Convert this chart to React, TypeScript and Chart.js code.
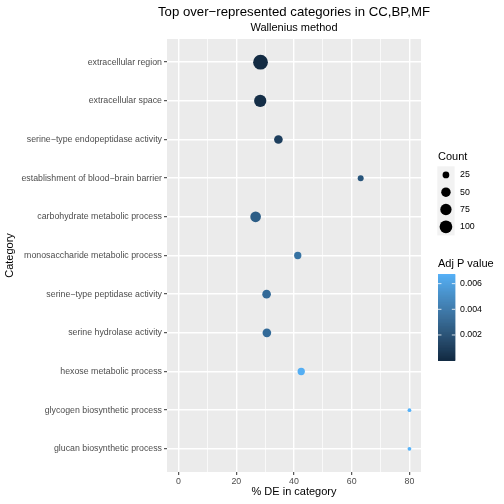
import React, { useEffect, useRef } from "react";
import { Chart, registerables } from "chart.js";

Chart.register(...registerables);

const TITLE = "Top over−represented categories in CC,BP,MF";
const SUBTITLE = "Wallenius method";
const X_TITLE = "% DE in category";
const Y_TITLE = "Category";
const COUNT_TITLE = "Count";
const P_TITLE = "Adj P value";

const categories = [
  "extracellular region",
  "extracellular space",
  "serine−type endopeptidase activity",
  "establishment of blood−brain barrier",
  "carbohydrate metabolic process",
  "monosaccharide metabolic process",
  "serine−type peptidase activity",
  "serine hydrolase activity",
  "hexose metabolic process",
  "glycogen biosynthetic process",
  "glucan biosynthetic process",
];
const pctDE = [28.4, 28.3, 34.6, 63.1, 26.7, 41.3, 30.5, 30.6, 42.5, 80, 80];
const counts = [144, 92, 41, 21, 66, 29, 41, 41, 29, 16, 16];
const adjP = [0.00002, 0.0002, 0.0011, 0.0023, 0.0027, 0.0038, 0.0034, 0.0034, 0.0066, 0.00675, 0.00675];

const xTicks = [0, 20, 40, 60, 80];
const xMinorTicks = [10, 30, 50, 70];
const countBreaks = [25, 50, 75, 100];
const pBreaks = [0.002, 0.004, 0.006];
const pBreakLabels = ["0.002", "0.004", "0.006"];

const LOW_COLOR = "#132B43";
const HIGH_COLOR = "#56B1F7";
const FONT = '"Liberation Sans", Arial, Helvetica, sans-serif';

// ---------- colour helpers (Lab interpolation like ggplot) ----------
function hexToRgb(h: string) {
  const v = parseInt(h.slice(1), 16);
  return [(v >> 16) & 255, (v >> 8) & 255, v & 255];
}
function toLab(hex: string) {
  const [r, g, b] = hexToRgb(hex).map((c) => {
    const s = c / 255;
    return s <= 0.04045 ? s / 12.92 : Math.pow((s + 0.055) / 1.055, 2.4);
  });
  const X = (0.4124564 * r + 0.3575761 * g + 0.1804375 * b) / 0.95047;
  const Y = 0.2126729 * r + 0.7151522 * g + 0.072175 * b;
  const Z = (0.0193339 * r + 0.119192 * g + 0.9503041 * b) / 1.08883;
  const f = (t: number) => (t > 216 / 24389 ? Math.cbrt(t) : ((24389 / 27) * t + 16) / 116);
  const fx = f(X), fy = f(Y), fz = f(Z);
  return [116 * fy - 16, 500 * (fx - fy), 200 * (fy - fz)];
}
function labToHex(L: number, a: number, bb: number) {
  const fy = (L + 16) / 116;
  const fx = fy + a / 500;
  const fz = fy - bb / 200;
  const inv = (f: number) => (f * f * f > 216 / 24389 ? f * f * f : (116 * f - 16) / (24389 / 27));
  const X = inv(fx) * 0.95047, Y = inv(fy), Z = inv(fz) * 1.08883;
  const lin = [
    3.2404542 * X - 1.5371385 * Y - 0.4985314 * Z,
    -0.969266 * X + 1.8760108 * Y + 0.041556 * Z,
    0.0556434 * X - 0.2040259 * Y + 1.0572252 * Z,
  ];
  const out = lin.map((c) => {
    const s = c <= 0.0031308 ? 12.92 * c : 1.055 * Math.pow(c, 1 / 2.4) - 0.055;
    return Math.max(0, Math.min(255, Math.round(s * 255)));
  });
  return "#" + out.map((c) => c.toString(16).padStart(2, "0")).join("");
}
const LAB_LO = toLab(LOW_COLOR);
const LAB_HI = toLab(HIGH_COLOR);
const P_MIN = Math.min(...adjP);
const P_MAX = Math.max(...adjP);
function colorFor(p: number) {
  const t = Math.max(0, Math.min(1, (p - P_MIN) / (P_MAX - P_MIN)));
  return labToHex(
    LAB_LO[0] + (LAB_HI[0] - LAB_LO[0]) * t,
    LAB_LO[1] + (LAB_HI[1] - LAB_LO[1]) * t,
    LAB_LO[2] + (LAB_HI[2] - LAB_LO[2]) * t
  );
}

// ---------- size helper (area scale like ggplot) ----------
const C_MIN = Math.min(...counts);
const C_MAX = Math.max(...counts);
const D_MIN = 3.8;
const D_MAX = 14.8;
function diameterFor(c: number) {
  const t = Math.max(0, (c - C_MIN) / (C_MAX - C_MIN));
  return D_MIN + (D_MAX - D_MIN) * Math.sqrt(t);
}

// ---------- x range (expand 5% incl. 0) ----------
const X_LO_DATA = Math.min(0, ...pctDE);
const X_HI_DATA = Math.max(...pctDE);
const X_PAD = (X_HI_DATA - X_LO_DATA) * 0.05;

const overlayPlugin = {
  id: "ggOverlay",
  beforeDraw(chart: any) {
    const { ctx, chartArea } = chart;
    ctx.save();
    ctx.fillStyle = "#EBEBEB";
    ctx.fillRect(chartArea.left, chartArea.top, chartArea.right - chartArea.left, chartArea.bottom - chartArea.top);
    ctx.restore();
  },
  afterDraw(chart: any) {
    const { ctx, chartArea } = chart;
    const cx = (chartArea.left + chartArea.right) / 2;
    const cy = (chartArea.top + chartArea.bottom) / 2;
    ctx.save();
    ctx.fillStyle = "#000";
    ctx.textAlign = "center";
    ctx.textBaseline = "middle";
    ctx.font = `13.2px ${FONT}`;
    ctx.fillText(TITLE, cx, 12);
    ctx.font = `11px ${FONT}`;
    ctx.fillText(SUBTITLE, cx, 27.5);
    ctx.fillText(X_TITLE, cx, 492);
    ctx.save();
    ctx.translate(10, cy);
    ctx.rotate(-Math.PI / 2);
    ctx.fillText(Y_TITLE, 0, 0);
    ctx.restore();

    // Count legend
    const lx = 438;
    ctx.textAlign = "left";
    ctx.font = `11px ${FONT}`;
    ctx.fillText(COUNT_TITLE, lx, 157);
    const keyH = 17.28;
    const keyTop = 166.3;
    ctx.fillStyle = "#F2F2F2";
    ctx.fillRect(lx - 0.7, keyTop, keyH, keyH * countBreaks.length);
    countBreaks.forEach((c, i) => {
      const ky = keyTop + keyH * (i + 0.5);
      const d = diameterFor(c);
      ctx.fillStyle = "#000";
      ctx.beginPath();
      ctx.arc(lx - 0.7 + keyH / 2, ky, d / 2, 0, Math.PI * 2);
      ctx.fill();
      ctx.font = `8.8px ${FONT}`;
      ctx.fillText(String(c), 460, ky);
    });

    // Adj P colourbar
    ctx.font = `11px ${FONT}`;
    ctx.fillStyle = "#000";
    ctx.fillText(P_TITLE, lx, 264);
    const barTop = 274;
    const barH = keyH * 5;
    const barW = keyH;
    const nb = Math.round(barH);
    for (let i = 0; i < nb; i++) {
      const t = 1 - (i + 0.5) / nb;
      ctx.fillStyle = colorFor(P_MIN + t * (P_MAX - P_MIN));
      ctx.fillRect(lx, barTop + (barH * i) / nb, barW, barH / nb + 0.6);
    }
    pBreaks.forEach((p, i) => {
      const y = barTop + barH - ((p - P_MIN) / (P_MAX - P_MIN)) * barH;
      ctx.strokeStyle = "#FFFFFF";
      ctx.lineWidth = 0.8;
      ctx.beginPath();
      ctx.moveTo(lx, y);
      ctx.lineTo(lx + barW / 5, y);
      ctx.moveTo(lx + barW, y);
      ctx.lineTo(lx + barW - barW / 5, y);
      ctx.stroke();
      ctx.fillStyle = "#000";
      ctx.font = `8.8px ${FONT}`;
      ctx.fillText(pBreakLabels[i], 460, y);
    });
    ctx.restore();
  },
};

export default function App() {
  const canvasRef = useRef<HTMLCanvasElement | null>(null);

  useEffect(() => {
    const canvas = canvasRef.current;
    if (!canvas) return;
    const points = categories.map((_, i) => ({ x: pctDE[i], y: i }));
    const chart = new Chart(canvas, {
      type: "scatter",
      data: {
        datasets: [
          {
            data: points,
            pointRadius: counts.map((c) => diameterFor(c) / 2),
            pointHoverRadius: counts.map((c) => diameterFor(c) / 2),
            pointBackgroundColor: adjP.map((p) => colorFor(p)),
            pointBorderWidth: 0,
            pointBorderColor: "rgba(0,0,0,0)",
          },
        ],
      },
      plugins: [overlayPlugin],
      options: {
        animation: false,
        responsive: false,
        maintainAspectRatio: false,
        layout: { padding: { top: 39, right: 83, left: 0, bottom: 0 } },
        plugins: {
          legend: { display: false },
          title: { display: false },
          tooltip: { enabled: false },
        },
        scales: {
          x: {
            type: "linear",
            min: X_LO_DATA - X_PAD,
            max: X_HI_DATA + X_PAD,
            afterBuildTicks: (scale: any) => {
              scale.ticks = [...xTicks, ...xMinorTicks]
                .sort((a, b) => a - b)
                .map((v) => ({ value: v }));
            },
            afterFit: (scale: any) => {
              scale.height = 32;
            },
            ticks: {
              autoSkip: false,
              maxRotation: 0,
              minRotation: 0,
              padding: 1,
              color: "#4D4D4D",
              font: { size: 8.8, family: FONT },
              callback: (v: any) => (xTicks.includes(Number(v)) ? String(v) : ""),
            },
            grid: {
              color: "#FFFFFF",
              lineWidth: (ctx: any) => (ctx.tick && xTicks.includes(ctx.tick.value) ? 1.4 : 0.7),
              drawTicks: true,
              tickLength: 3,
              tickWidth: 1,
              tickColor: (ctx: any) =>
                ctx.tick && xTicks.includes(ctx.tick.value) ? "#333333" : "rgba(0,0,0,0)",
            },
            border: { display: false },
          },
          y: {
            type: "linear",
            reverse: true,
            min: -0.6,
            max: categories.length - 1 + 0.6,
            afterBuildTicks: (scale: any) => {
              scale.ticks = categories.map((_, i) => ({ value: i }));
            },
            afterFit: (scale: any) => {
              scale.width = 167;
            },
            ticks: {
              autoSkip: false,
              padding: 2,
              color: "#4D4D4D",
              font: { size: 8.8, family: FONT },
              callback: (v: any) => categories[Number(v)] ?? "",
            },
            grid: {
              color: "#FFFFFF",
              lineWidth: 1.4,
              drawTicks: true,
              tickLength: 3,
              tickWidth: 1,
              tickColor: "#333333",
            },
            border: { display: false },
          },
        },
      },
    } as any);
    return () => chart.destroy();
  }, []);

  return (
    <div style={{ position: "fixed", left: 0, top: 0, width: 504, height: 504, background: "#FFFFFF" }}>
      <canvas ref={canvasRef} width={504} height={504} style={{ display: "block", width: 504, height: 504 }} />
    </div>
  );
}
